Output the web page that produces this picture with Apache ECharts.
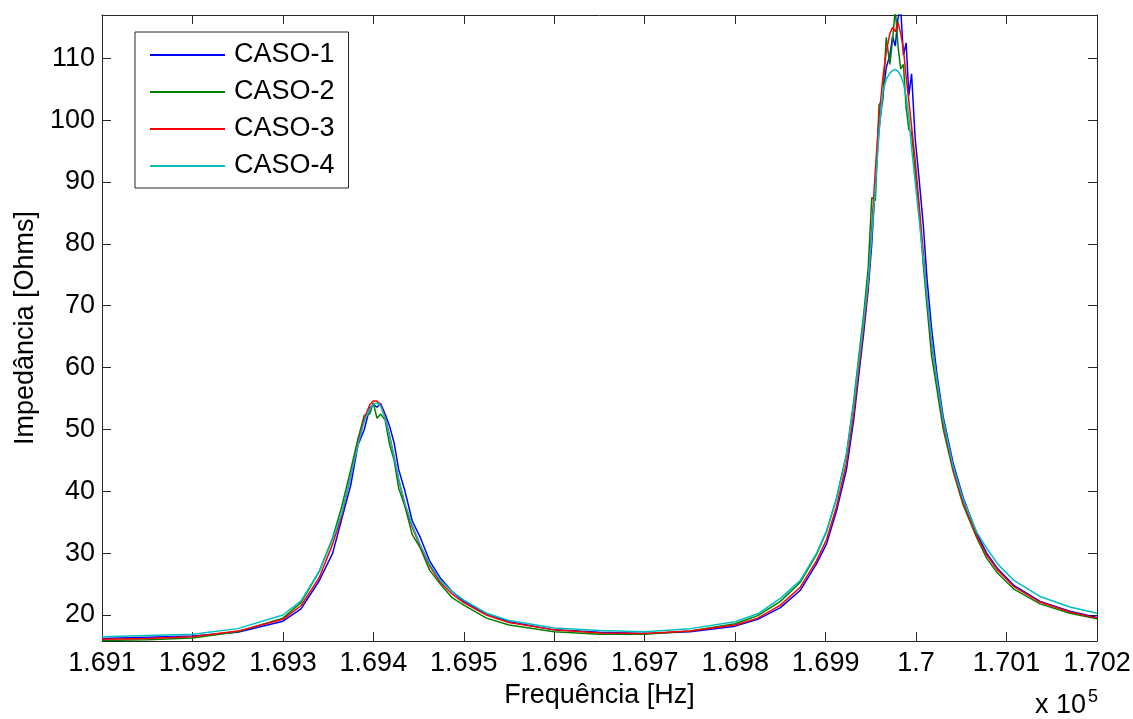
<!DOCTYPE html>
<html>
<head>
<meta charset="utf-8">
<script src="https://cdn.jsdelivr.net/npm/echarts@6.0.0/dist/echarts.min.js"></script>
<style>
  html, body { margin: 0; padding: 0; background: #fff; }
  #chart { width: 1133px; height: 719px; }
</style>
</head>
<body>
<div id="chart"></div>
<script>
// frequência em Hz (o eixo mostra x 10^5)
const freqHz = [
  169100, 169150, 169200, 169250, 169300,
  169320, 169340, 169355, 169365, 169375,
  169383, 169390, 169396, 169400, 169404,
  169408, 169413, 169418, 169423, 169428,
  169435, 169443, 169452, 169462, 169474,
  169487, 169500, 169525, 169550, 169600,
  169650, 169700, 169750, 169800, 169825,
  169850, 169872, 169890, 169901, 169912,
  169923, 169931, 169938, 169942, 169947,
  169951, 169955, 169959, 169963, 169967,
  169971, 169974, 169977, 169980, 169983,
  169986, 169989, 169992, 169995, 169999,
  170003, 170008, 170012, 170017, 170023,
  170030, 170041, 170052, 170067, 170078,
  170090, 170108, 170137, 170170, 170200
];

const caso1 = [
  16.2, 16.4, 16.6, 17.2, 19.0,
  21.0, 25.5, 30.0, 35.5, 41.0,
  47.5, 50.0, 53.5, 54.0, 53.6,
  54.2, 52.5, 50.5, 47.8, 43.5,
  40.0, 35.2, 32.5, 28.8, 26.0,
  23.8, 22.2, 20.2, 18.9, 17.6,
  17.2, 17.0, 17.3, 18.2, 19.3,
  21.2, 24.0, 28.3, 31.5, 36.8,
  43.5, 51.5, 60.5, 65.5, 72.5,
  80.0, 90.0, 98.5, 103.5, 108.5,
  110.5, 113.5, 112.0, 116.5, 118.0,
  110.5, 112.5, 104.0, 107.5, 97.0,
  91.0, 83.0, 74.5, 66.5, 59.0,
  52.0, 44.5, 39.0, 33.2, 30.0,
  27.5, 24.8, 22.2, 20.6, 19.6
];

const caso2 = [
  15.9, 16.0, 16.3, 17.3, 19.5,
  22.0, 27.0, 32.5, 37.5, 43.5,
  48.5, 52.3, 52.5, 54.3, 51.8,
  52.5, 51.5, 47.5, 45.0, 40.5,
  37.5, 33.0, 30.8, 27.3, 25.0,
  22.8, 21.6, 19.5, 18.4, 17.3,
  16.9, 16.9, 17.4, 18.6, 19.9,
  22.2, 25.3, 29.8, 33.5, 38.9,
  46.0, 54.5, 63.5, 68.5, 76.0,
  87.5, 87.0, 102.5, 103.0, 113.4,
  109.0, 113.0, 118.0, 112.0, 108.3,
  109.0, 102.0, 98.5, 98.0, 91.5,
  86.0, 76.5, 70.0, 62.0, 56.5,
  50.0, 43.2, 37.8, 32.5, 29.2,
  26.8, 24.2, 21.8, 20.3, 19.4
];

const caso3 = [
  16.1, 16.2, 16.5, 17.4, 19.3,
  21.5, 26.0, 31.5, 36.0, 42.5,
  47.8, 51.8, 54.0, 54.6, 54.6,
  54.0, 52.0, 49.0, 45.5, 41.8,
  37.8, 34.2, 31.0, 28.0, 25.3,
  23.4, 22.0, 20.0, 18.8, 17.6,
  17.1, 17.0, 17.4, 18.4, 19.5,
  21.6, 24.5, 28.8, 32.2, 37.5,
  44.5, 52.5, 61.5, 66.5, 73.0,
  82.5, 92.0, 100.5, 106.5, 111.0,
  114.0, 115.0, 114.3, 115.8, 114.0,
  111.5, 107.0, 103.0, 99.0, 93.5,
  87.0, 78.5, 71.5, 64.0, 57.8,
  51.0, 43.5, 38.2, 32.8, 29.7,
  27.3, 24.6, 22.1, 20.5, 19.5
];

const caso4 = [
  16.5, 16.7, 16.9, 17.8, 20.0,
  22.3, 27.0, 32.3, 36.5, 42.5,
  47.5, 51.3, 53.3, 54.1, 54.3,
  53.8, 51.8, 48.8, 45.5, 42.0,
  38.0, 34.5, 31.3, 28.3, 25.6,
  23.8, 22.4, 20.3, 19.1, 17.9,
  17.5, 17.3, 17.8, 18.9, 20.2,
  22.7, 25.6, 30.0, 33.6, 38.8,
  45.8, 54.0, 62.7, 67.5, 74.0,
  81.5, 89.0, 98.0, 104.5, 106.6,
  107.6, 108.0, 108.2, 107.9, 107.2,
  106.0, 103.8, 100.5, 95.5, 90.0,
  84.5, 77.5, 71.5, 64.5, 58.0,
  51.5, 44.0, 38.7, 33.4, 30.8,
  28.3, 25.6, 23.0, 21.3, 20.3
];

const seriesNames = ['CASO-1', 'CASO-2', 'CASO-3', 'CASO-4'];
const seriesColors = ['#0000ff', '#008000', '#ff0000', '#00bfbf'];
const yTickValues = [20, 30, 40, 50, 60, 70, 80, 90, 100, 110];

const font = "'Liberation Sans', Arial, sans-serif";
const axisColor = '#262626';

function fmtX(v) {
  // 169100 -> "1.691", 170000 -> "1.7"
  return String(parseFloat((v / 1e5).toFixed(3)));
}

const allValues = [caso1, caso2, caso3, caso4];

const chart = echarts.init(document.getElementById('chart'));

const xBase = {
  type: 'value',
  min: 169100,
  max: 170200,
  interval: 100,
  splitLine: { show: false },
  axisLine: { lineStyle: { color: axisColor, width: 1 } },
  axisTick: { inside: true, length: 9, lineStyle: { color: axisColor } }
};
const yBase = {
  type: 'value',
  min: 15.8,
  max: 117,
  splitLine: { show: false },
  axisLine: { show: true, lineStyle: { color: axisColor, width: 1 } },
  axisTick: { show: true, inside: true, length: 9, customValues: yTickValues, lineStyle: { color: axisColor } }
};

let option = {
  animation: false,
  backgroundColor: '#fff',
  grid: { left: 102, top: 15, width: 995, height: 626, outerBoundsMode: 'none' },
  xAxis: [
    Object.assign({}, xBase, {
      position: 'bottom',
      name: 'Frequência [Hz]',
      nameLocation: 'middle',
      nameGap: 36,
      nameTextStyle: { fontSize: 27, fontFamily: font, color: '#000' },
      axisLabel: { fontSize: 27, fontFamily: font, color: '#000', margin: 9, formatter: fmtX }
    }),
    Object.assign({}, xBase, { position: 'top', axisLabel: { show: false } })
  ],
  yAxis: [
    Object.assign({}, yBase, {
      position: 'left',
      name: 'Impedância [Ohms]',
      nameLocation: 'middle',
      nameGap: 62,
      nameTextStyle: { fontSize: 27, fontFamily: font, color: '#000' },
      axisLabel: { fontSize: 27, fontFamily: font, color: '#000', margin: 7, customValues: yTickValues }
    }),
    Object.assign({}, yBase, { position: 'right', axisLabel: { show: false } })
  ],
  legend: {
    data: seriesNames,
    orient: 'vertical',
    left: 135,
    top: 32,
    padding: [8, 14, 7, 15],
    itemWidth: 75,
    itemHeight: 2,
    itemGap: 7,
    icon: 'rect',
    backgroundColor: '#fff',
    borderColor: axisColor,
    borderWidth: 1,
    borderRadius: 0,
    textStyle: { fontSize: 27, fontFamily: font, color: '#000', lineHeight: 30, padding: [0, 0, 0, 4] }
  },
  graphic: [
    { type: 'text', left: 1035, top: 692, style: { text: 'x 10', font: '27px ' + font, fill: '#000' } },
    { type: 'text', left: 1088, top: 688, style: { text: '5', font: '18px ' + font, fill: '#000' } }
  ],
  series: seriesNames.map((name, i) => ({
    name: name,
    type: 'line',
    xAxisIndex: 0,
    yAxisIndex: 0,
    color: seriesColors[i],
    showSymbol: false,
    symbol: 'none',
    clip: true,
    lineStyle: { width: 1.5, color: seriesColors[i] },
    data: freqHz.map((f, k) => [f, allValues[i][k]])
  }))
};

chart.setOption(option);
</script>
</body>
</html>
